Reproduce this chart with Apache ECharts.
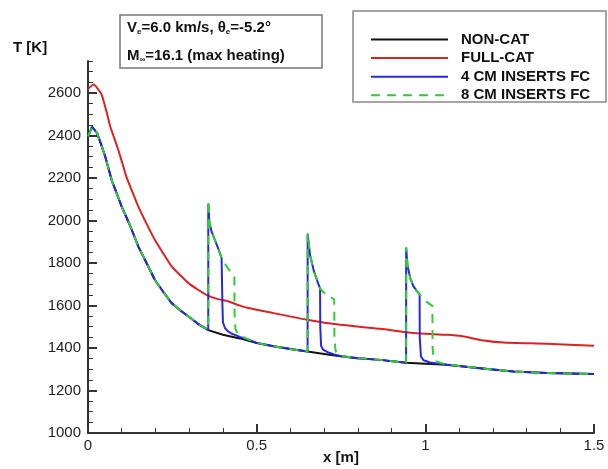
<!DOCTYPE html>
<html>
<head>
<meta charset="utf-8">
<script src="https://cdn.jsdelivr.net/npm/echarts@6/dist/echarts.min.js"></script>
<style>html,body{margin:0;padding:0;background:#fff;}#c{width:608px;height:469px;}</style>
</head>
<body>
<div id="c"></div>
<script>
const seriesNames = ['NON-CAT', 'FULL-CAT', '4 CM INSERTS FC', '8 CM INSERTS FC'];
const xTicks = [0, 0.5, 1, 1.5];
const yTicks = [1000, 1200, 1400, 1600, 1800, 2000, 2200, 2400, 2600];

const nonCat = [
  [0,2395],[0.012,2440],[0.027,2411],[0.041,2348],[0.051,2301],[0.07,2191],[0.0996,2066],[0.125,1975],
  [0.149,1878],[0.175,1795],[0.198,1721],[0.225,1660],[0.248,1611],[0.275,1575],[0.298,1548],[0.325,1515],
  [0.3565,1484],[0.4,1462],[0.45,1445],[0.5,1423],[0.55,1408],[0.6,1395],[0.651,1383],[0.7,1372],
  [0.748,1361],[0.8,1352],[0.866,1344],[0.943,1330],[1.0,1326],[1.064,1321],[1.162,1305],[1.261,1289],
  [1.36,1282],[1.5,1277]
];
const fullCat = [
  [0,2618],[0.017,2639],[0.031,2615],[0.041,2590],[0.056,2505],[0.066,2442],[0.086,2350],[0.096,2300],
  [0.114,2205],[0.125,2160],[0.149,2066],[0.175,1980],[0.198,1909],[0.225,1840],[0.248,1784],[0.275,1740],
  [0.298,1705],[0.325,1675],[0.351,1650],[0.38,1632],[0.416,1619],[0.451,1599],[0.475,1588],[0.55,1564],
  [0.649,1533],[0.748,1509],[0.866,1490],[0.965,1470],[1.064,1462],[1.11,1455],[1.162,1438],[1.231,1426],
  [1.36,1420],[1.5,1410]
];
const insert4 = [
  [0,2395],[0.012,2440],[0.027,2411],[0.041,2348],[0.051,2301],[0.07,2191],[0.0996,2066],[0.125,1975],
  [0.149,1878],[0.175,1795],[0.198,1721],[0.225,1660],[0.248,1611],[0.275,1575],[0.298,1548],[0.325,1515],
  [0.3565,1484],[0.3566,2075],[0.36,1990],[0.366,1950],[0.376,1909],[0.388,1860],[0.396,1823],[0.398,1815],
  [0.3985,1600],[0.400,1520],[0.406,1494],[0.415,1478],[0.425,1468],[0.45,1452],[0.475,1440],[0.5,1424],
  [0.55,1408],[0.6,1395],[0.651,1383],
  [0.6512,1935],[0.655,1880],[0.659,1831],[0.67,1760],[0.683,1700],[0.688,1680],
  [0.6885,1500],[0.691,1410],[0.697,1392],[0.71,1380],[0.73,1370],[0.748,1362],[0.8,1352],[0.866,1344],[0.943,1330],
  [0.9432,1870],[0.947,1790],[0.955,1730],[0.965,1690],[0.975,1668],[0.983,1652],
  [0.9835,1450],[0.987,1360],[0.995,1342],[1.014,1332],[1.064,1321],[1.162,1305],[1.261,1289],[1.36,1282],[1.5,1277]
];
const insert8 = [
  [0,2395],[0.012,2440],[0.027,2411],[0.041,2348],[0.051,2301],[0.07,2191],[0.0996,2066],[0.125,1975],
  [0.149,1878],[0.175,1795],[0.198,1721],[0.225,1660],[0.248,1611],[0.275,1575],[0.298,1548],[0.325,1515],
  [0.3565,1484],[0.3566,2097],[0.36,1995],[0.366,1952],[0.376,1909],[0.388,1860],[0.396,1823],[0.398,1815],
  [0.405,1798],[0.417,1770],[0.427,1752],[0.434,1740],[0.4345,1560],[0.437,1490],[0.443,1470],[0.455,1455],
  [0.48,1437],[0.5,1424],[0.55,1408],[0.6,1395],[0.651,1383],
  [0.6512,1940],[0.655,1882],[0.659,1831],[0.67,1760],[0.683,1700],[0.688,1680],[0.70,1660],[0.712,1645],
  [0.723,1635],[0.730,1628],[0.7305,1450],[0.734,1385],[0.742,1370],[0.75,1362],[0.8,1352],[0.866,1344],[0.943,1330],
  [0.9432,1875],[0.947,1790],[0.955,1730],[0.965,1690],[0.975,1668],[0.983,1652],[0.995,1630],[1.008,1612],
  [1.021,1598],[1.0215,1400],[1.025,1350],[1.035,1335],[1.064,1322],[1.162,1305],[1.261,1289],[1.36,1282],[1.5,1277]
];

const FONT = "'Liberation Sans', Arial, sans-serif";
const chart = echarts.init(document.getElementById('c'), null, {renderer: 'canvas'});

const axisColor = '#333';
const option = {
  animation: false,
  backgroundColor: '#fff',
  grid: {left: 88, right: 14, top: 61, bottom: 36, containLabel: false},
  xAxis: [{
    type: 'value', min: 0, max: 1.5, interval: 0.5,
    axisLine: {show: true, lineStyle: {color: axisColor, width: 2}},
    axisTick: {show: true, inside: true, length: 9, lineStyle: {color: axisColor, width: 2}},
    minorTick: {show: true, splitNumber: 5, length: 5, lineStyle: {color: axisColor, width: 1}},
    axisLabel: {color: '#222', fontFamily: FONT, fontSize: 15, margin: 5,
      customValues: xTicks, formatter: v => String(v)},
    splitLine: {show: false}
  }],
  yAxis: [{
    type: 'value', min: 1000, max: 2750, interval: 50,
    axisLine: {show: true, lineStyle: {color: axisColor, width: 2}},
    axisTick: {show: true, inside: true, length: 9, customValues: yTicks, lineStyle: {color: axisColor, width: 2}},
    axisLabel: {color: '#222', fontFamily: FONT, fontSize: 15, margin: 7, customValues: yTicks, formatter: v => String(v)},
    splitLine: {show: false}
  }, {
    type: 'value', min: 1000, max: 2750, interval: 50, position: 'left', offset: 0,
    axisLine: {show: false},
    axisTick: {show: true, inside: true, length: 5, lineStyle: {color: axisColor, width: 1}},
    axisLabel: {show: false},
    splitLine: {show: false}
  }],
  legend: {
    orient: 'vertical', left: 365, top: 27,
    itemWidth: 77, itemHeight: 14, itemGap: 3.6,
    data: seriesNames,
    itemStyle: {opacity: 0},
    textStyle: {fontFamily: FONT, fontWeight: 'bold', fontSize: 15, color: '#111', lineHeight: 14, padding: [0,0,0,8]},
    selectedMode: false
  },
  graphic: [
    {type: 'rect', shape: {x: 353, y: 11, width: 253, height: 91}, style: {fill: '#fff', stroke: '#888', lineWidth: 1.5}, z: 0},
    {type: 'rect', shape: {x: 120, y: 15, width: 202, height: 53}, style: {fill: '#fff', stroke: '#777', lineWidth: 1.5}, z: 0},
    {type: 'text', x: 127, y: 28, z: 10, style: {
      text: 'V{s|e}=6.0 km/s, θ{s|e}=-5.2°', fill: '#111', font: "bold 15px " + FONT, verticalAlign: 'middle',
      rich: {s: {fontSize: 8, fontWeight: 'bold', fontFamily: FONT, verticalAlign: 'bottom', padding: [8,0,0,0]}}
    }},
    {type: 'text', x: 127, y: 56, z: 10, style: {
      text: 'M{s|∞}=16.1 (max heating)', fill: '#111', font: "bold 15px " + FONT, verticalAlign: 'middle',
      rich: {s: {fontSize: 8, fontWeight: 'bold', fontFamily: FONT, verticalAlign: 'bottom', padding: [8,0,0,0]}}
    }},
    {type: 'text', x: 13, y: 48, z: 10, style: {text: 'T [K]', fill: '#111', font: "bold 15px " + FONT, verticalAlign: 'middle'}},
    {type: 'text', x: 341, y: 458, z: 10, style: {text: 'x [m]', fill: '#111', font: "bold 15px " + FONT, align: 'center', verticalAlign: 'middle'}}
  ],
  series: [
    {name: seriesNames[0], type: 'line', data: nonCat, symbol: 'none', lineStyle: {color: '#111', width: 2}, itemStyle: {color: '#111'}, z: 2},
    {name: seriesNames[1], type: 'line', data: fullCat, symbol: 'none', smooth: 0.2, lineStyle: {color: '#dd2222', width: 2}, itemStyle: {color: '#dd2222'}, z: 3},
    {name: seriesNames[2], type: 'line', data: insert4, symbol: 'none', lineStyle: {color: '#2828dd', width: 2}, itemStyle: {color: '#2828dd'}, z: 4},
    {name: seriesNames[3], type: 'line', data: insert8, symbol: 'none', lineStyle: {color: '#33cc33', width: 2, type: [9, 7]}, itemStyle: {color: '#33cc33'}, z: 5}
  ]
};
chart.setOption(option);
</script>
</body>
</html>
